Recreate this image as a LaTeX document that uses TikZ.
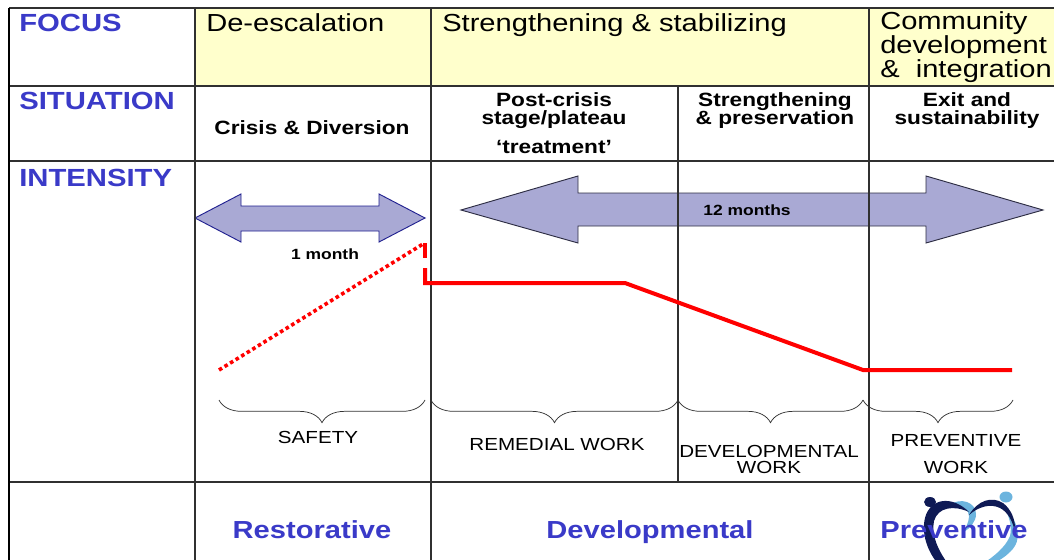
\documentclass[tikz,border=0pt]{standalone}
\usepackage{fontspec}
\setmainfont[FakeStretch=1.18]{Liberation Sans}
\usetikzlibrary{decorations.pathreplacing}
\definecolor{headblue}{HTML}{3A3AC8}
\definecolor{paleyellow}{HTML}{FFFFCC}
\definecolor{arrowfill}{HTML}{A9A9D4}
\definecolor{arrowline}{HTML}{1F1F8F}
\definecolor{navy}{HTML}{0F1A55}
\definecolor{skyblue}{HTML}{6CB4DE}
\definecolor{gridline}{HTML}{303030}
\tikzset{
  x=0.75pt,y=-0.75pt,
  gridrule/.style={draw=gridline,line width=0.95pt},
  rowhead/.style={anchor=base west,text=headblue,font=\fontsize{18.6}{18.6}\selectfont\bfseries,inner sep=0pt},
  focustext/.style={anchor=base west,font=\fontsize{18.5}{17.2}\selectfont,inner sep=0pt,align=left},
  situtext/.style={anchor=base,font=\fontsize{14.4}{13.5}\selectfont\bfseries,inner sep=0pt,align=center},
  worktext/.style={anchor=base,font=\fontsize{13.1}{13.1}\selectfont,inner sep=0pt,align=center},
  roletext/.style={anchor=base,text=headblue,font=\fontsize{18.5}{18.5}\selectfont\bfseries,inner sep=0pt},
  spanlabel/.style={anchor=center,font=\fontsize{11.1}{11.1}\selectfont\bfseries,inner sep=0pt},
  spanarrow/.style={draw=arrowline,fill=arrowfill,line width=0.7pt,line join=miter},
  workbrace/.style={draw=black!80,line width=0.55pt,decorate,decoration={brace,mirror,amplitude=17pt,aspect=0.5}},
  redline/.style={draw=red,line width=3pt},
}
\begin{document}
\begin{tikzpicture}
\useasboundingbox (0,0) rectangle (1054,560);
% yellow focus band
\fill[paleyellow] (195,8) rectangle (1054,86);
% logo behind the bottom-right label
\begin{scope}
\clip (870,483) rectangle (1054,560);
\fill[skyblue] (950,505) .. controls (960,497) and (976,502) .. (976,514) .. controls (976,522) and (970,528) .. (964,532) .. controls (967,524) and (971,518) .. (968,512) .. controls (965,507) and (958,505) .. (950,505) -- cycle;
\fill[skyblue] (1006,511) .. controls (1019,522) and (1023,540) .. (1010,552) .. controls (1005,557) and (1000,560) .. (994,563) -- (984,563) .. controls (994,556) and (1005,548) .. (1010,536) .. controls (1012,528) and (1010,519) .. (1006,511) -- cycle;
\fill[navy] (969,512) .. controls (952,495) and (930,498) .. (925,518) .. controls (921,534) and (928,552) .. (938,564) -- (948,564) .. controls (938,550) and (931,535) .. (934,521) .. controls (938,507) and (954,505) .. (969,512) -- cycle;
\fill[navy] (969,515) .. controls (978,500) and (992,496) .. (1003,503) .. controls (1011,509) and (1016,520) .. (1015,532) .. controls (1013,522) and (1008,512) .. (1000,508) .. controls (990,503) and (978,507) .. (969,515) -- cycle;
\fill[navy] (930,502) ellipse (6 and 5);
\fill[skyblue] (1006,497) ellipse (6.5 and 5.5);
\end{scope}
% double arrows (under the grid rules, which show through)
\draw[spanarrow] (195,218) -- (241,194) -- (241,206) -- (379,206) -- (379,194) -- (425,218) -- (379,242) -- (379,231) -- (241,231) -- (241,242) -- cycle;
\draw[spanarrow,draw=gridline!80!arrowline] (461,210) -- (578,176) -- (578,193) -- (926,193) -- (926,176) -- (1043,210) -- (926,243) -- (926,226) -- (578,226) -- (578,243) -- cycle;
% grid
\draw[gridrule,line width=1.6pt] (9,8) -- (1054,8);
\draw[gridrule] (9,86) -- (1054,86);
\draw[gridrule] (9,161) -- (1054,161);
\draw[gridrule] (9,482) -- (1054,482);
\draw[gridrule,draw=black,line width=1.3pt] (9,8) -- (9,560);
\draw[gridrule] (195,8) -- (195,560);
\draw[gridrule] (431,8) -- (431,560);
\draw[gridrule] (678,87) -- (678,482);
\draw[gridrule] (869,8) -- (869,560);
% row heads
\node[rowhead] (focus) at (19,32) {FOCUS};
\node[rowhead] (situation) at (19,110) {SITUATION};
\node[rowhead] (intensity) at (19,186) {INTENSITY};
% focus row
\node[focustext] (deesc) at (206,32) {De-escalation};
\node[focustext] (strength) at (442,32) {Strengthening \& stabilizing};
\node[focustext] (community) at (880,78) {Community\\development\\\&\ \ integration};
% situation row
\node[situtext] (crisis) at (312,135) {Crisis \& Diversion};
\node[situtext] (postcrisis) at (554,125) {Post-crisis\\stage/plateau};
\node[situtext] (treatment) at (554,153) {‘treatment’};
\node[situtext] (preserve) at (775,125) {Strengthening\\\& preservation};
\node[situtext] (exit) at (967,125) {Exit and\\sustainability};
% span labels
\node[spanlabel] (onemonth) at (325,254) {1 month};
\node[spanlabel] (twelve) at (747,210) {12 months};
% intensity line
\coordinate (rise0) at (219,370);
\coordinate (rise1) at (423,244);
\coordinate (drop0) at (425,243);
\coordinate (drop1) at (425,283);
\coordinate (plateau) at (625,283);
\coordinate (low) at (863,370);
\coordinate (lowend) at (1012,370);
\draw[redline,line width=2.7pt,dash pattern=on 2.7pt off 2.2pt] (rise0) -- (rise1);
\draw[redline] (drop0) -- (425,258);
\draw[redline,line join=miter] (425,268) -- (drop1) -- (plateau) -- (low) -- (lowend);
% braces
\draw[workbrace] (219,400) -- (425,400);
\draw[workbrace] (431,400) -- (678,400);
\draw[workbrace] (678,400) -- (863,400);
\draw[workbrace] (863,400) -- (1013,400);
% work labels
\node[worktext] (safety) at (318,443) {SAFETY};
\node[worktext] (remedial) at (557,450) {REMEDIAL WORK};
\node[worktext,font=\fontsize{13.1}{12}\selectfont] (developmental) at (769,473) {DEVELOPMENTAL\\WORK};
\node[worktext,font=\fontsize{13.1}{20.25}\selectfont] (preventivework) at (956,473) {PREVENTIVE\\WORK};
% bottom row
\node[roletext] (restorative) at (312,538) {Restorative};
\node[roletext] (developmentalrole) at (650,538) {Developmental};
\node[roletext] (preventive) at (954,538) {Preventive};
\end{tikzpicture}
\end{document}
